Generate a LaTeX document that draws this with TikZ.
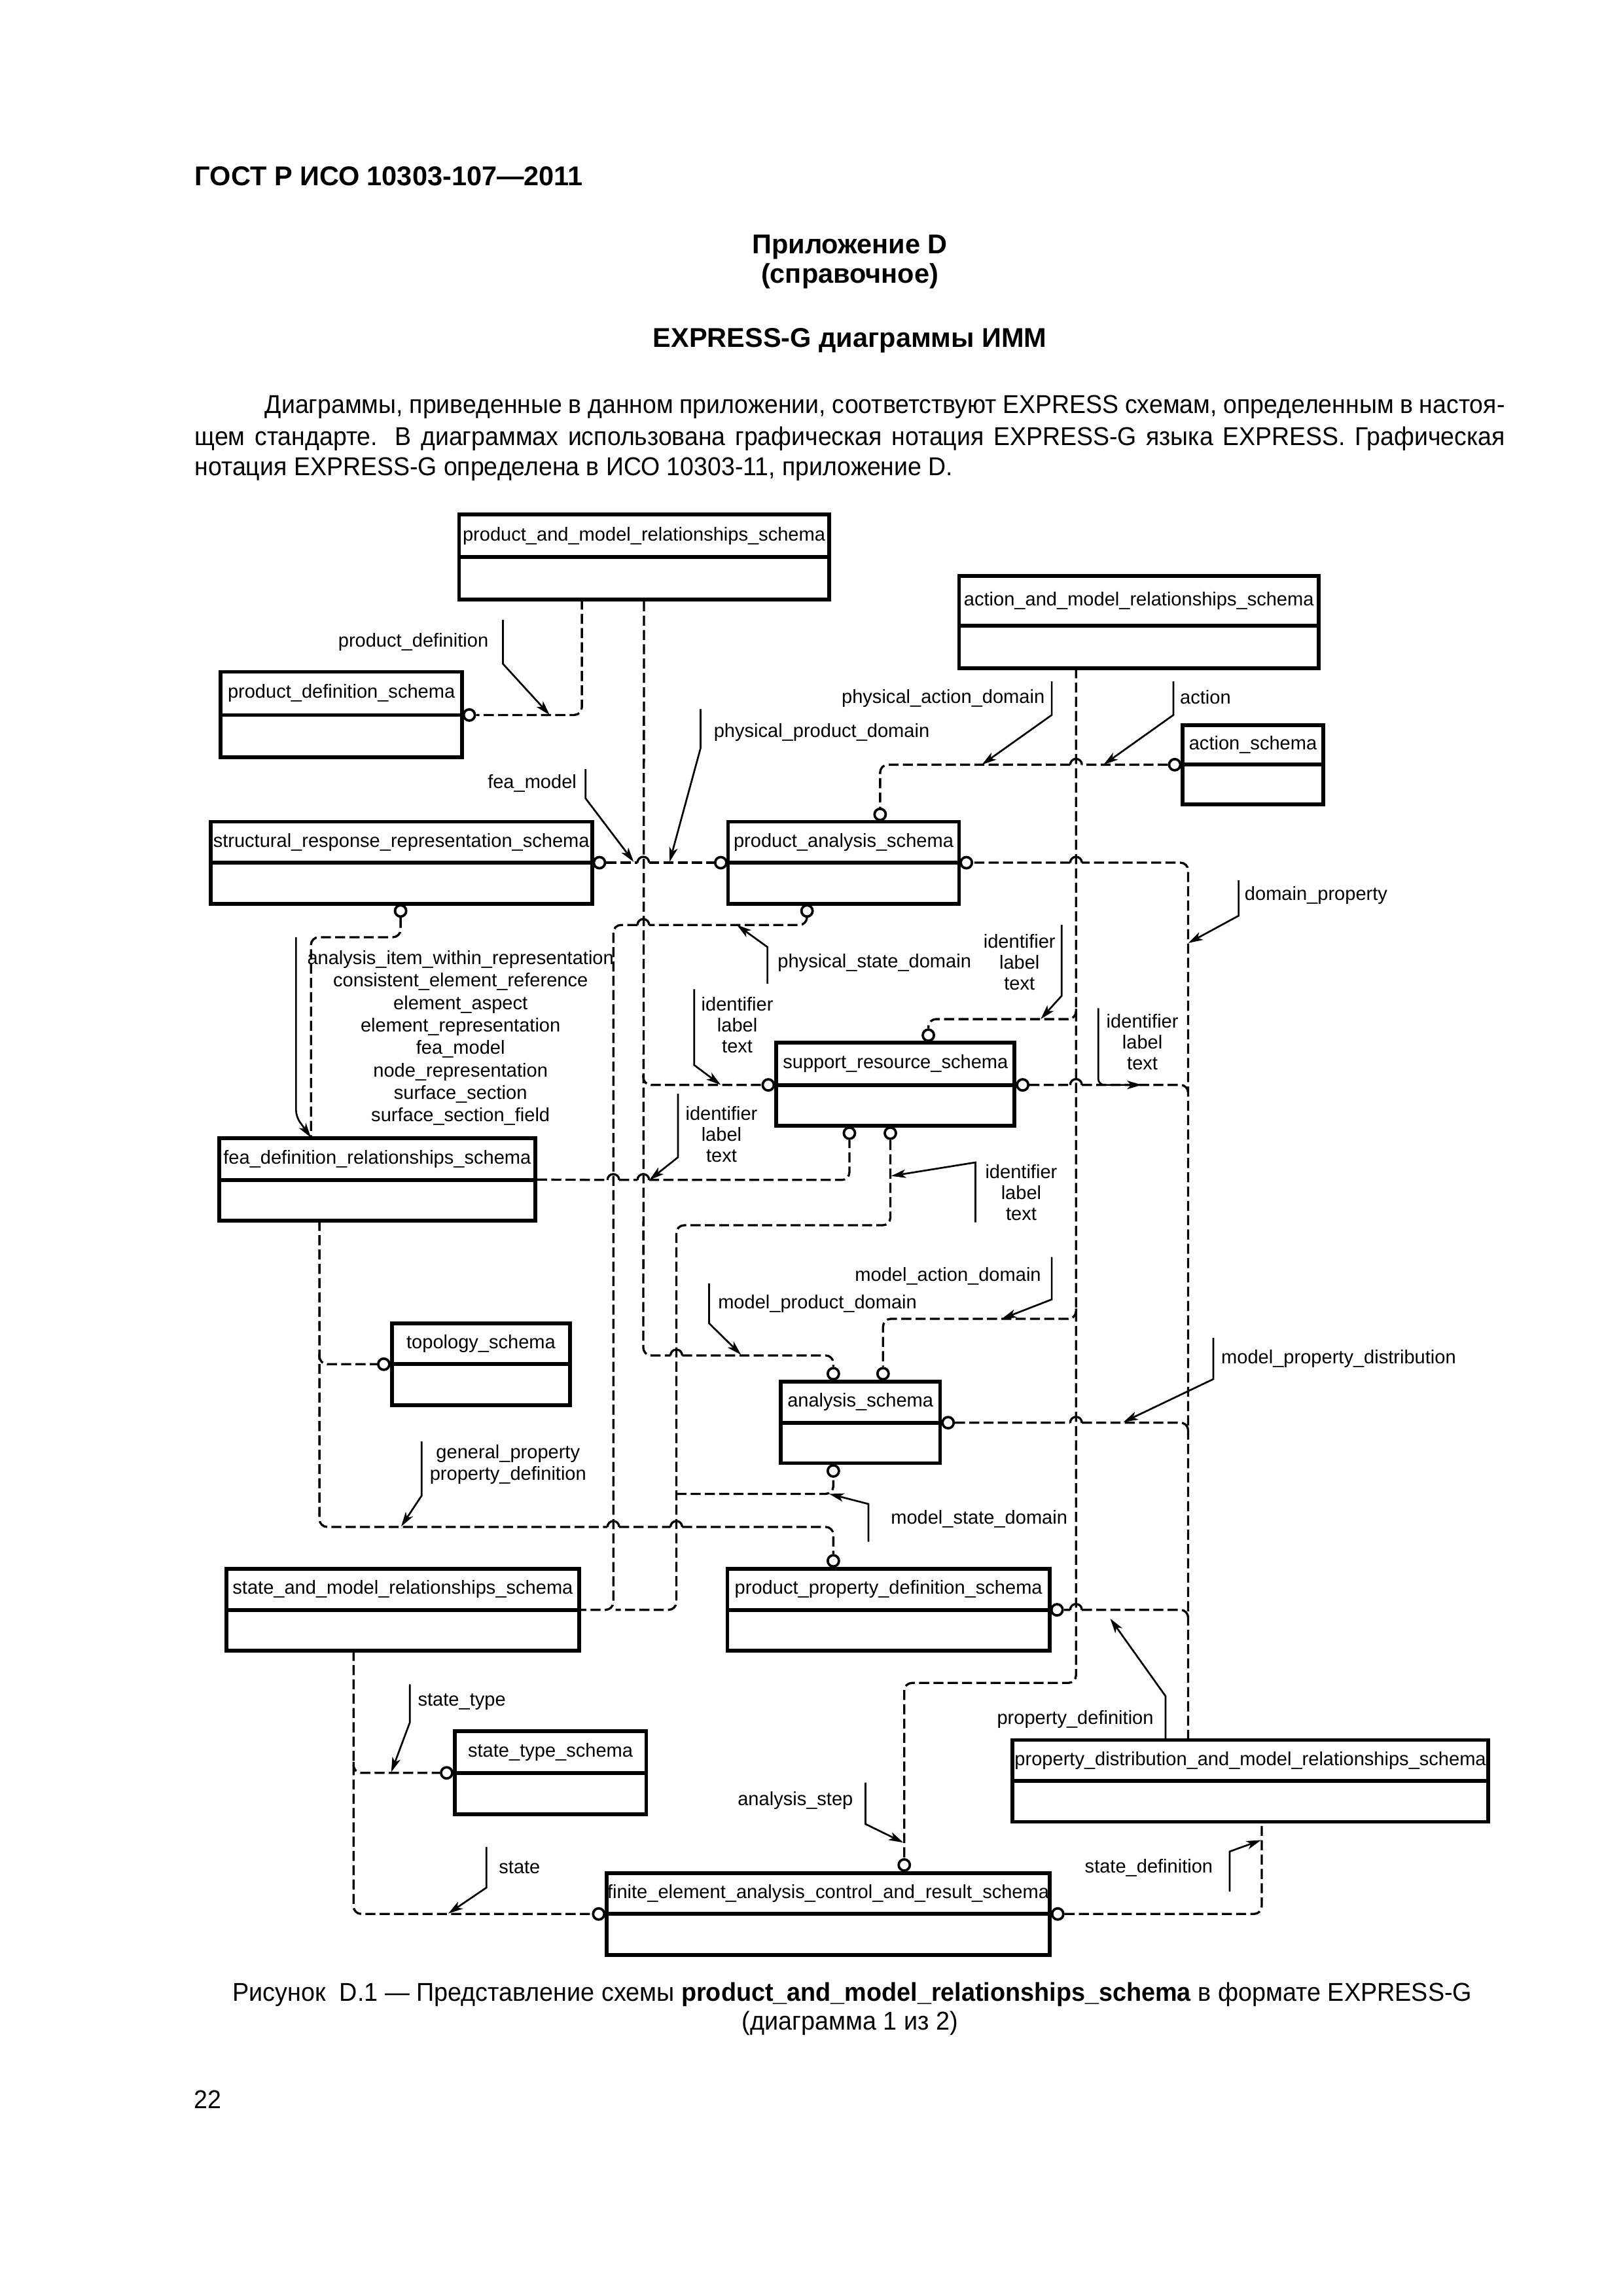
\documentclass[tikz,border=0pt]{standalone}
\usepackage{fontspec}
\setmainfont{Liberation Sans}
\newfontfamily\bodyfont[FakeStretch=0.95]{Liberation Sans}
\newfontfamily\capfont[FakeStretch=0.958]{Liberation Sans}
\usetikzlibrary{arrows.meta,fit}
\tikzset{
  boxtext/.style={font=\fontsize{7}{8}\selectfont, inner sep=0pt},
  lab/.style={font=\fontsize{7}{8}\selectfont, inner sep=0pt},
  labid/.style={font=\fontsize{7}{7.75}\selectfont, inner sep=0pt, align=center},
  reflink/.style={line width=0.8pt, dash pattern=on 1.3mm off 0.55mm, rounded corners=1mm},
  archst/.style={line width=0.8pt},
  ptr/.style={line width=0.65pt, -{Stealth[length=1.9mm,width=1.1mm,inset=0.5mm]}},
  conn/.style={circle, draw, fill=white, line width=0.9pt, inner sep=0pt, minimum size=1.45mm},
  schemaframe/.style={draw, line width=1.4pt, inner sep=0pt},
  pagetext/.style={font=\bodyfont\fontsize{9.5}{11.5}\selectfont, inner sep=0pt},
  captext/.style={font=\capfont\fontsize{9.5}{11.5}\selectfont, inner sep=0pt},
  pagebold/.style={font=\bfseries\fontsize{10}{12}\selectfont, inner sep=0pt},
}
\newcommand{\archat}[2]{\draw[archst] ({#1-4},#2) arc[start angle=180,end angle=0,radius=0.757mm];}
\newcommand{\schemabox}[7]{%
  \coordinate (#1-a) at (#2,#3);
  \coordinate (#1-b) at (#4,#6);
  \node[schemaframe, fit=(#1-a)(#1-b)] (#1) {};
  \draw[line width=1.4pt] (#2,#5) -- (#4,#5);
  \node[boxtext] (#1-t) at ({(#2+#4)/2},{(#3+#5)/2}) {#7};
}
\begin{document}
\begin{tikzpicture}[x=0.189172mm, y=-0.189172mm]
\useasboundingbox (0,0) rectangle (1110.1,1570.3);

% ---------- page texts ----------
\node[pagebold, anchor=base west] (hdr) at (133,127) {ГОСТ Р ИСО 10303-107—2011};
\node[pagebold, anchor=base] (app) at (581.3,173.5) {Приложение D};
\node[pagebold, anchor=base] (appk) at (581.3,193.5) {(справочное)};
\node[pagebold, anchor=base] (ttl) at (581.3,237.4) {EXPRESS-G диаграммы ИММ};
\node[pagetext, anchor=base west] (b1) at (180.8,282.5) {\makebox[160.46mm][s]{Диаграммы, приведенные в данном приложении, соответствуют EXPRESS схемам, определенным в настоя-}};
\node[pagetext, anchor=base west] (b2) at (132.9,304.6) {\makebox[169.52mm][s]{щем стандарте. В диаграммах использована графическая нотация EXPRESS-G языка EXPRESS. Графическая}};
\node[pagetext, anchor=base west] (b3) at (132.9,325.3) {нотация EXPRESS-G определена в ИСО 10303-11, приложение D.};
\node[captext, anchor=base west] (cap1) at (158.7,1368.5) {Рисунок \ D.1 — Представление схемы \textbf{product\_and\_model\_relationships\_schema} в формате EXPRESS-G};
\node[captext, anchor=base] (cap2) at (581.3,1388.4) {(диаграмма 1 из 2)};
\node[pagetext, anchor=base west] (pgno) at (132.5,1442) {22};

% ---------- schema boxes ----------
\schemabox{pmr}{314}{352}{567}{381}{410}{product\_and\_model\_relationships\_schema}
\schemabox{amr}{656}{394}{902}{428}{457}{action\_and\_model\_relationships\_schema}
\schemabox{pds}{151}{459.5}{316}{489}{518}{product\_definition\_schema}
\schemabox{act}{809}{496}{905}{523}{550}{action\_schema}
\schemabox{srr}{144}{562}{405}{590}{618}{structural\_response\_representation\_schema}
\schemabox{pas}{498}{562}{656}{590}{618}{product\_analysis\_schema}
\schemabox{srs}{531}{713}{694}{742}{770}{support\_resource\_schema}
\schemabox{fdr}{150}{778.5}{366}{807}{835}{fea\_definition\_relationships\_schema}
\schemabox{topo}{268}{905}{390}{933}{961}{topology\_schema}
\schemabox{ana}{534}{945}{643}{973}{1000.7}{analysis\_schema}
\schemabox{smr}{155}{1073}{396}{1101}{1129}{state\_and\_model\_relationships\_schema}
\schemabox{ppd}{497.5}{1073}{718}{1101}{1129}{product\_property\_definition\_schema}
\schemabox{sts}{311}{1184}{442}{1212.5}{1241}{state\_type\_schema}
\schemabox{pdmr}{692.5}{1190}{1018}{1218}{1246}{property\_distribution\_and\_model\_relationships\_schema}
\schemabox{fea}{415}{1281}{718}{1309}{1337}{finite\_element\_analysis\_control\_and\_result\_schema}

% ---------- connection circles ----------
\node[conn] (c1) at (321,489) {};
\node[conn] (c2) at (410,590) {};
\node[conn] (c3) at (493,590) {};
\node[conn] (c4) at (602,557) {};
\node[conn] (c5) at (803.5,523) {};
\node[conn] (c6) at (661,590) {};
\node[conn] (c7) at (274,623) {};
\node[conn] (c8) at (552,623) {};
\node[conn] (c9) at (635,708) {};
\node[conn] (c10) at (525.5,742) {};
\node[conn] (c11) at (699.5,742) {};
\node[conn] (c12) at (581,775) {};
\node[conn] (c13) at (609,775) {};
\node[conn] (c14) at (262.5,933) {};
\node[conn] (c15) at (570,939.5) {};
\node[conn] (c16) at (604,939.5) {};
\node[conn] (c17) at (648.5,973) {};
\node[conn] (c18) at (570,1006) {};
\node[conn] (c19) at (570,1067.5) {};
\node[conn] (c20) at (723,1101) {};
\node[conn] (c21) at (305.5,1212.5) {};
\node[conn] (c22) at (618.5,1275.5) {};
\node[conn] (c23) at (409.5,1309) {};
\node[conn] (c24) at (723.5,1309) {};

% ---------- dashed schema references ----------
% product_and_model_relationships_schema
\draw[reflink] (398,410) -- (398,489) -- (c1);
\draw[reflink] (pmr.south) -- (440,927) -- (458.6,927) (466.6,927) -- (570,927) -- (c15);
\draw[reflink] (c2) -- (436,590) (444,590) -- (c3);
\archat{440}{590}
\draw[reflink] (440,735) -- (440,742) -- (c10);
% action_and_model_relationships_schema
\draw[reflink] (736,457) -- (736,1151) -- (618.5,1151) -- (c22);
\draw[reflink] (c5) -- (740,523) (732,523) -- (602,523) -- (c4);
\archat{736}{523}
\draw[reflink] (736,690) -- (736,697) -- (635,697) -- (c9);
\draw[reflink] (736,895) -- (736,902) -- (604,902) -- (c16);
% property_distribution_and_model_relationships_schema
\draw[reflink] (812.7,1190) -- (812.7,590) -- (740,590) (732,590) -- (c6);
\archat{736}{590}
\draw[reflink] (c11) -- (732,742) (740,742) -- (812.7,742) -- (812.7,750);
\archat{736}{742}
\draw[reflink] (c17) -- (732,973) (740,973) -- (812.7,973) -- (812.7,981);
\archat{736}{973}
\draw[reflink] (c20) -- (732,1101) (740,1101) -- (812.7,1101) -- (812.7,1109);
\archat{736}{1101}
\draw[reflink] (c24) -- (863,1309) -- (863,1246);
% state_and_model_relationships_schema
\draw[reflink] (c8) -- (552,632.6) -- (444,632.6) (436,632.6) -- (419.5,632.6) -- (419.5,1101) -- (smr.east);
\archat{440}{632.6}
\draw[reflink] (c13) -- (609,838) -- (462.6,838) -- (462.6,1101) -- (421,1101);
\archat{462.6}{927}
\draw[reflink] (462.6,1021.7) -- (570,1021.7) -- (c18);
\draw[reflink] (241.8,1129) -- (241.8,1309) -- (c23);
\draw[reflink] (241.8,1205) -- (241.8,1212.5) -- (c21);
% fea_definition_relationships_schema
\draw[reflink] (fdr.east) -- (415.5,807) (423.5,807) -- (436,807) (444,807) -- (581,807) -- (c12);
\archat{419.5}{807}
\archat{440}{807}
\draw[reflink] (c7) -- (274,641) -- (212.7,641) -- (212.7,778.5);
\draw[reflink] (218.5,835) -- (218.5,1044.3) -- (415.5,1044.3) (423.5,1044.3) -- (458.6,1044.3) (466.6,1044.3) -- (570,1044.3) -- (c19);
\archat{419.5}{1044.3}
\archat{462.6}{1044.3}
\draw[reflink] (218.5,926) -- (218.5,933) -- (c14);

% ---------- labels and pointers ----------
\node[lab, anchor=east] (l-pd) at (334.4,439) {product\_definition};
\draw[ptr] (344,424) -- (344,454) -- (376,489);
\node[lab, anchor=east] (l-fm) at (394.7,535.8) {fea\_model};
\draw[ptr] (400.5,526) -- (400.5,546) -- (433.5,589.5);
\node[lab, anchor=west] (l-ppd) at (487.9,500.7) {physical\_product\_domain};
\draw[ptr] (479.2,485) -- (479.2,511.6) -- (458,589.5);
\node[lab, anchor=east] (l-pad) at (714.9,477.4) {physical\_action\_domain};
\draw[ptr] (719.4,466) -- (719.4,489) -- (671.6,523);
\node[lab, anchor=west] (l-act) at (806.8,476.9) {action};
\draw[ptr] (802.6,466) -- (802.6,489) -- (754.8,523);
\node[lab, anchor=west] (l-dp) at (851,612.4) {domain\_property};
\draw[ptr] (847.2,602) -- (847.2,626.3) -- (812.7,645);
\node[lab, anchor=west] (l-psd) at (531.6,658.3) {physical\_state\_domain};
\draw[ptr] (524.9,672.7) -- (524.9,647.7) -- (504,632.6);
\node[labid] (l-id1) at (504.3,701) {identifier\\label\\text};
\draw[ptr] (474.8,676.5) -- (474.8,728.4) -- (493,742);
\node[labid] (l-id2) at (697.3,658.2) {identifier\\label\\text};
\draw[ptr] (726.2,632.6) -- (726.2,681) -- (711.8,697);
\node[labid] (l-id3) at (781.4,712.6) {identifier\\label\\text};
\draw[ptr, rounded corners=0.8mm] (751.2,689.5) -- (751.2,742) -- (781,742);
\node[labid] (l-id4) at (493.5,775.7) {identifier\\label\\text};
\draw[ptr] (463.7,748) -- (463.7,791.5) -- (444.2,807);
\node[labid] (l-id5) at (698.5,815.6) {identifier\\label\\text};
\draw[ptr] (667.2,836) -- (667.2,795) -- (609.5,804.3);
\node[lab, align=center, font=\fontsize{7}{8.27}\selectfont] (l-list) at (315,709.9) {analysis\_item\_within\_representation\\consistent\_element\_reference\\element\_aspect\\element\_representation\\fea\_model\\node\_representation\\surface\_section\\surface\_section\_field};
\draw[ptr, rounded corners=0.8mm] (202.5,641) -- (202.5,763.7) -- (212.7,778);
\node[lab, anchor=west] (l-mpd) at (490.8,891.6) {model\_product\_domain};
\draw[ptr] (485,877.8) -- (485,905) -- (506.9,926.6);
\node[lab, anchor=east] (l-mad) at (712.4,872.7) {model\_action\_domain};
\draw[ptr] (719.4,859.7) -- (719.4,888.7) -- (685.2,902);
\node[lab, anchor=west] (l-mpdist) at (835,929.3) {model\_property\_distribution};
\draw[ptr] (829.9,915) -- (829.9,943.2) -- (768.4,972.6);
\node[lab, align=center] (l-gp) at (347.5,1001.6) {general\_property\\property\_definition};
\draw[ptr] (288.4,985.9) -- (288.4,1022.9) -- (274.4,1044);
\node[lab, anchor=west] (l-msd) at (609,1038.8) {model\_state\_domain};
\draw[ptr] (594,1054.5) -- (594,1028.6) -- (567.2,1021.7);
\node[lab, anchor=west] (l-prd) at (681.6,1175.8) {property\_definition};
\draw[ptr] (797.2,1190) -- (797.2,1160) -- (759.4,1107);
\node[lab, anchor=west] (l-st) at (285.5,1163.8) {state\_type};
\draw[ptr] (280.3,1151.9) -- (280.3,1178.1) -- (267.6,1212);
\node[lab, anchor=east] (l-as) at (583.8,1231.5) {analysis\_step};
\draw[ptr] (592,1219.2) -- (592,1247.5) -- (617.9,1260.2);
\node[lab, anchor=west] (l-s) at (340.9,1277.4) {state};
\draw[ptr] (332.7,1263.2) -- (332.7,1291) -- (306.6,1308.7);
\node[lab, anchor=east] (l-sd) at (829.9,1277.4) {state\_definition};
\draw[ptr] (841.1,1293.7) -- (841.1,1266.3) -- (862.6,1258.5);
\end{tikzpicture}
\end{document}
